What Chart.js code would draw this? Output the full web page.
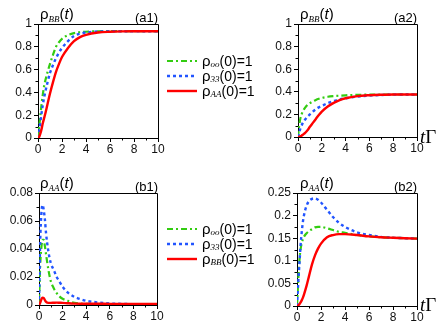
<!DOCTYPE html>
<html>
<head>
<meta charset="utf-8">
<script src="https://cdn.jsdelivr.net/npm/chart.js@4"></script>
<style>
    body { margin: 0; background: #fff; }
    #wrap { position: relative; width: 447px; height: 327px; overflow: hidden; font-family: "Liberation Sans", Arial, sans-serif; color: #000; }
    canvas { position: absolute; }
    .lbl { position: absolute; white-space: nowrap; line-height: 1; }
    .rho { font-size: 15px; }
    .sub { font-family: "Liberation Serif", serif; font-style: italic; font-size: 9px; position: relative; top: 3px; }
    .tag { font-size: 13px; }
    .legend { position: absolute; font-size: 14px; }
    .legend div { height: 15px; display: flex; align-items: center; }
    .legend svg { margin-right: 5px; }
    .tG { position: absolute; font-family: "Liberation Serif", serif; font-size: 19px; }
</style>
</head>
<body>
<div id="wrap">
    <canvas id="a1" width="165" height="165" style="left:0;top:0"></canvas>
    <canvas id="a2" width="175" height="165" style="left:250px;top:0"></canvas>
    <canvas id="b1" width="165" height="162" style="left:0;top:165px"></canvas>
    <canvas id="b2" width="175" height="162" style="left:250px;top:165px"></canvas>

    <div class="lbl" style="left:40px;top:6px"><span class="rho">ρ</span><span class="sub">BB</span><span class="rho">(<i>t</i>)</span></div>
    <div class="lbl tag" style="left:135px;top:11px">(a1)</div>
    <div class="lbl" style="left:300px;top:6px"><span class="rho">ρ</span><span class="sub">BB</span><span class="rho">(<i>t</i>)</span></div>
    <div class="lbl tag" style="left:394px;top:11px">(a2)</div>
    <div class="lbl" style="left:40px;top:175px"><span class="rho">ρ</span><span class="sub">AA</span><span class="rho">(<i>t</i>)</span></div>
    <div class="lbl tag" style="left:135px;top:180px">(b1)</div>
    <div class="lbl" style="left:300px;top:175px"><span class="rho">ρ</span><span class="sub">AA</span><span class="rho">(<i>t</i>)</span></div>
    <div class="lbl tag" style="left:394px;top:180px">(b2)</div>

    <div class="legend" id="legA" style="left:167px;top:53px"></div>
    <div class="legend" id="legB" style="left:167px;top:221px"></div>

    <div class="tG" style="left:420px;top:126px"><i>t</i>Γ</div>
    <div class="tG" style="left:420px;top:294px"><i>t</i>Γ</div>
</div>
<script>
// ==================== DATA ====================

const times = [0, 0.1, 0.2, 0.3, 0.4, 0.5, 0.6, 0.8, 1, 1.25, 1.5, 1.75, 2, 2.5, 3, 3.5, 4, 5, 6, 7, 8, 9, 10];

// (a1) rho_BB, delta = 0 case
const a1Green = [0, 0.1, 0.2, 0.3, 0.38, 0.45, 0.5, 0.58, 0.65, 0.73, 0.8, 0.84, 0.87, 0.903, 0.92, 0.928, 0.932, 0.936, 0.937, 0.937, 0.937, 0.937, 0.937];
const a1Blue = [0, 0.06, 0.14, 0.22, 0.29, 0.35, 0.4, 0.49, 0.57, 0.64, 0.7, 0.75, 0.79, 0.85, 0.895, 0.915, 0.926, 0.934, 0.936, 0.937, 0.937, 0.937, 0.937];
const a1Red = [0, 0.01, 0.04, 0.08, 0.13, 0.17, 0.21, 0.3, 0.39, 0.49, 0.58, 0.65, 0.71, 0.79, 0.85, 0.885, 0.905, 0.925, 0.932, 0.935, 0.936, 0.936, 0.936];

// (a2) rho_BB
const a2Green = [0, 0.1, 0.165, 0.2, 0.225, 0.245, 0.26, 0.285, 0.3, 0.315, 0.328, 0.338, 0.346, 0.356, 0.362, 0.366, 0.369, 0.373, 0.375, 0.376, 0.376, 0.376, 0.376];
const a2Blue = [0, 0.04, 0.075, 0.1, 0.125, 0.14, 0.155, 0.18, 0.2, 0.225, 0.245, 0.262, 0.275, 0.3, 0.318, 0.333, 0.343, 0.358, 0.367, 0.372, 0.375, 0.376, 0.376];
const a2Red = [0, 0.002, 0.006, 0.012, 0.02, 0.028, 0.037, 0.06, 0.09, 0.125, 0.16, 0.195, 0.225, 0.27, 0.302, 0.327, 0.343, 0.362, 0.37, 0.374, 0.376, 0.376, 0.376];

// (b1) rho_AA
const b1Green = [0, 0.028, 0.041, 0.0465, 0.0465, 0.042, 0.036, 0.025, 0.017, 0.012, 0.0085, 0.006, 0.0045, 0.0028, 0.0016, 0.001, 0.0008, 0.0006, 0.0005, 0.0005, 0.0005, 0.0005, 0.0005];
const b1Blue = [0, 0.045, 0.065, 0.0715, 0.068, 0.061, 0.051, 0.038, 0.03, 0.025, 0.02, 0.0165, 0.013, 0.0085, 0.0058, 0.0042, 0.003, 0.0018, 0.0011, 0.0008, 0.0006, 0.0005, 0.0005];
const b1Red = [0, 0.0015, 0.004, 0.0053, 0.005, 0.0035, 0.0022, 0.0015, 0.0015, 0.0016, 0.0017, 0.0016, 0.0015, 0.0012, 0.001, 0.0009, 0.0009, 0.0009, 0.0008, 0.0008, 0.0008, 0.0008, 0.0008];

// (b2) rho_AA
const b2Green = [0, 0.055, 0.1, 0.126, 0.14, 0.148, 0.154, 0.161, 0.166, 0.17, 0.174, 0.175, 0.175, 0.172, 0.168, 0.164, 0.162, 0.157, 0.154, 0.152, 0.151, 0.15, 0.149];
const b2Blue = [0, 0.05, 0.093, 0.135, 0.165, 0.188, 0.203, 0.222, 0.232, 0.237, 0.238, 0.235, 0.229, 0.213, 0.197, 0.184, 0.175, 0.163, 0.157, 0.153, 0.151, 0.15, 0.149];
const b2Red = [0, 0.001, 0.004, 0.008, 0.013, 0.019, 0.027, 0.045, 0.066, 0.092, 0.112, 0.127, 0.138, 0.152, 0.157, 0.159, 0.159, 0.157, 0.154, 0.152, 0.151, 0.15, 0.149];

const legendTopLabels = ['oo', '33', 'AA'];
const legendBottomLabels = ['oo', '33', 'BB'];

// ==================== STYLES ====================

const GREEN = '#33cc11';
const BLUE = '#2255ff';
const RED = '#ff0000';
const seriesStyles = [
    { color: GREEN, dash: [6, 3, 2, 3], width: 2.2 },
    { color: BLUE, dash: [3, 3], width: 2.4 },
    { color: RED, dash: [], width: 2.4 }
];

// ==================== FRAME PLUGIN ====================

// draws the top/right border and the short minor ticks
const framePlugin = {
    id: 'frame',
    afterDraw(chart) {
        const { ctx, chartArea: a, scales } = chart;
        ctx.save();
        ctx.strokeStyle = '#000';
        ctx.lineWidth = 1;
        ctx.beginPath();
        ctx.moveTo(a.left, a.top + 0.5);
        ctx.lineTo(a.right + 0.5, a.top + 0.5);
        ctx.lineTo(a.right + 0.5, a.bottom);
        // minor ticks
        scales.x.ticks.forEach((t, i) => {
            if (i % 2 === 1) {
                const px = Math.round(scales.x.getPixelForValue(t.value)) + 0.5;
                ctx.moveTo(px, a.bottom);
                ctx.lineTo(px, a.bottom + 2.5);
            }
        });
        scales.y.ticks.forEach((t, i) => {
            if (i % 2 === 1) {
                const py = Math.round(scales.y.getPixelForValue(t.value)) + 0.5;
                ctx.moveTo(a.left, py);
                ctx.lineTo(a.left - 2.5, py);
            }
        });
        ctx.stroke();
        ctx.restore();
    }
};

function fmt(v) {
    return String(Number(v.toFixed(4)));
}

// ==================== CHART BUILDER ====================

function makePanel(id, series, yMax, yStep, box) {
    const ctx = document.getElementById(id).getContext('2d');
    const tickFont = { family: '"Liberation Sans", Arial, sans-serif', size: 12 };
    return new Chart(ctx, {
        type: 'line',
        data: {
            labels: times,
            datasets: series.map((vals, i) => ({
                data: vals.map((v, k) => ({ x: times[k], y: v })),
                borderColor: seriesStyles[i].color,
                borderDash: seriesStyles[i].dash,
                borderWidth: seriesStyles[i].width,
                pointRadius: 0,
                fill: false,
                cubicInterpolationMode: 'monotone'
            })).reverse()
        },
        options: {
            responsive: false,
            animation: false,
            layout: { padding: { top: box.top, right: box.right, left: 0, bottom: 0 } },
            plugins: { legend: { display: false }, tooltip: { enabled: false } },
            scales: {
                x: {
                    type: 'linear',
                    min: 0,
                    max: 10,
                    afterFit(scale) { scale.height = box.xh; },
                    ticks: {
                        stepSize: 1,
                        autoSkip: false,
                        maxRotation: 0,
                        padding: 0,
                        color: '#111',
                        font: tickFont,
                        callback: (v, i) => (i % 2 === 0 ? fmt(v) : '')
                    },
                    grid: {
                        drawOnChartArea: false,
                        tickLength: 4,
                        tickColor: (c) => (c.index % 2 === 0 ? '#000' : 'rgba(0,0,0,0)')
                    },
                    border: { color: '#000', width: 1 }
                },
                y: {
                    min: 0,
                    max: yMax,
                    afterFit(scale) { scale.width = box.yw; },
                    ticks: {
                        stepSize: yStep,
                        autoSkip: false,
                        padding: 2,
                        color: '#111',
                        font: tickFont,
                        callback: (v, i) => (i % 2 === 0 ? fmt(v) : '')
                    },
                    grid: {
                        drawOnChartArea: false,
                        tickLength: 4,
                        tickColor: (c) => (c.index % 2 === 0 ? '#000' : 'rgba(0,0,0,0)')
                    },
                    border: { color: '#000', width: 1 }
                }
            }
        },
        plugins: [framePlugin]
    });
}

makePanel('a1', [a1Green, a1Blue, a1Red], 1, 0.1, { top: 24, right: 7, yw: 38, xh: 27 });
makePanel('a2', [a2Green, a2Blue, a2Red], 1, 0.1, { top: 24, right: 8, yw: 48, xh: 28 });
makePanel('b1', [b1Green, b1Blue, b1Red], 0.08, 0.01, { top: 28, right: 8, yw: 39, xh: 22 });
makePanel('b2', [b2Green, b2Blue, b2Red], 0.25, 0.025, { top: 28, right: 8, yw: 47, xh: 21 });

// ==================== LEGENDS ====================

function buildLegend(elId, subs) {
    const el = document.getElementById(elId);
    el.innerHTML = subs.map((s, i) => {
        const st = seriesStyles[i];
        return `<div><svg width="30" height="6"><line x1="0" y1="3" x2="30" y2="3" stroke="${st.color}" stroke-width="${st.width}" stroke-dasharray="${st.dash.join(' ') || 'none'}"/></svg>` +
            `<span class="rho">ρ</span><span class="sub">${s}</span>(0)=1</div>`;
    }).join('');
}

buildLegend('legA', legendTopLabels);
buildLegend('legB', legendBottomLabels);
</script>
</body>
</html>
